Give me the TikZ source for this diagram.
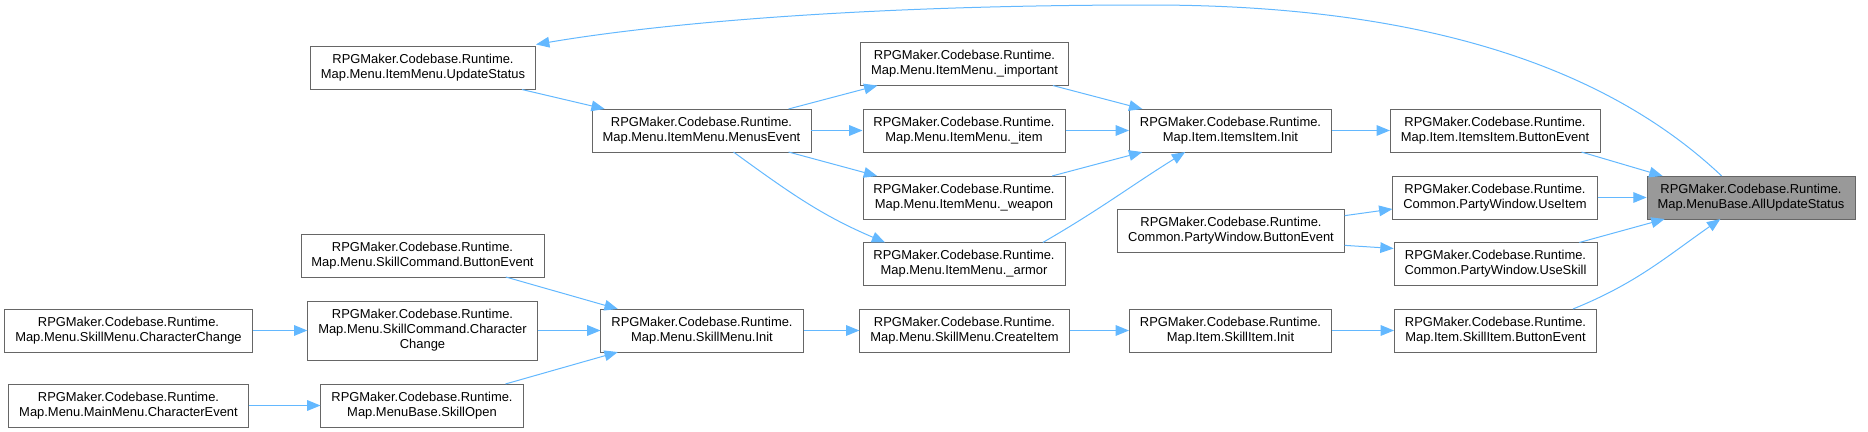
\documentclass[tikz,border=0pt]{standalone}
\usepackage{fontspec}
\setmainfont{Liberation Sans}
\usetikzlibrary{arrows.meta}

\definecolor{edgeblue}{HTML}{63B8FF}
\definecolor{boxgray}{HTML}{666666}
\definecolor{focusfill}{HTML}{999999}

\begin{document}
\begin{tikzpicture}[
    x=0.75pt, y=-0.75pt,
    block/.style={draw=boxgray, fill=white, minimum height=31.9pt, inner xsep=8pt, inner ysep=2pt, align=center, font=\fontsize{9.7}{11.25}\selectfont},
    focus/.style={block, fill=focusfill},
    arrow/.style={draw=edgeblue, line width=0.75pt, -{Triangle[length=10pt,width=8pt]}},
]
    \useasboundingbox (0,0) rectangle (1868,432);

    \node[block] (upd) at (423,68) {RPGMaker.Codebase.Runtime.\\Map.Menu.ItemMenu.UpdateStatus};
    \node[block] (menus) at (701.5,130.5) {RPGMaker.Codebase.Runtime.\\Map.Menu.ItemMenu.MenusEvent};
    \node[block] (imp) at (964.5,64) {RPGMaker.Codebase.Runtime.\\Map.Menu.ItemMenu.\_important};
    \node[block] (item) at (964,130.5) {RPGMaker.Codebase.Runtime.\\Map.Menu.ItemMenu.\_item};
    \node[block] (weap) at (964,197.5) {RPGMaker.Codebase.Runtime.\\Map.Menu.ItemMenu.\_weapon};
    \node[block] (armor) at (964,264) {RPGMaker.Codebase.Runtime.\\Map.Menu.ItemMenu.\_armor};
    \node[block] (itinit) at (1230.5,130.5) {RPGMaker.Codebase.Runtime.\\Map.Item.ItemsItem.Init};
    \node[block] (itbtn) at (1495,130.5) {RPGMaker.Codebase.Runtime.\\Map.Item.ItemsItem.ButtonEvent};
    \node[block] (pwbtn) at (1231,230.5) {RPGMaker.Codebase.Runtime.\\Common.PartyWindow.ButtonEvent};
    \node[block] (useitem) at (1495,197.5) {RPGMaker.Codebase.Runtime.\\Common.PartyWindow.UseItem};
    \node[block] (useskill) at (1495.5,264) {RPGMaker.Codebase.Runtime.\\Common.PartyWindow.UseSkill};
    \node[focus] (all) at (1751,197.5) {RPGMaker.Codebase.Runtime.\\Map.MenuBase.AllUpdateStatus};
    \node[block] (skbtn) at (1495.5,330.5) {RPGMaker.Codebase.Runtime.\\Map.Item.SkillItem.ButtonEvent};
    \node[block] (skinit) at (1230.5,330.5) {RPGMaker.Codebase.Runtime.\\Map.Item.SkillItem.Init};
    \node[block] (create) at (964.5,330.5) {RPGMaker.Codebase.Runtime.\\Map.Menu.SkillMenu.CreateItem};
    \node[block] (sminit) at (702,330.5) {RPGMaker.Codebase.Runtime.\\Map.Menu.SkillMenu.Init};
    \node[block] (scbtn) at (422.5,255.5) {RPGMaker.Codebase.Runtime.\\Map.Menu.SkillCommand.ButtonEvent};
    \node[block, minimum height=44.25pt] (scchg) at (422.5,330.5) {RPGMaker.Codebase.Runtime.\\Map.Menu.SkillCommand.Character\\Change};
    \node[block] (smchg) at (128.5,330.5) {RPGMaker.Codebase.Runtime.\\Map.Menu.SkillMenu.CharacterChange};
    \node[block] (open) at (422,405.5) {RPGMaker.Codebase.Runtime.\\Map.MenuBase.SkillOpen};
    \node[block] (mmev) at (128.5,405.5) {RPGMaker.Codebase.Runtime.\\Map.Menu.MainMenu.CharacterEvent};

    \draw[arrow] ([xshift=-22pt]all.north) .. controls (1620,80) and (1450,5) .. (1150,5) .. controls (850,5) and (650,25) .. ([yshift=1.5pt]upd.north east);
    \draw[arrow] ([xshift=-10.5pt]upd.south east) -- ([xshift=9.75pt]menus.north west);
    \draw[arrow] ([xshift=-17pt]menus.north east) -- ([xshift=13pt]imp.south west);
    \draw[arrow] (menus) -- (item);
    \draw[arrow] ([xshift=-17pt]menus.south east) -- ([xshift=11pt]weap.north west);
    \draw[arrow] ([xshift=24pt]menus.south) to[out=-36,in=157] ([xshift=17pt]armor.north west);
    \draw[arrow] ([xshift=-12pt]imp.south east) -- ([xshift=10pt]itinit.north west);
    \draw[arrow] (item) -- (itinit);
    \draw[arrow] ([xshift=-10pt]weap.north east) -- ([xshift=10pt]itinit.south west);
    \draw[arrow] ([xshift=-17pt]armor.north east) to[out=30,in=-148] ([xshift=-34pt]itinit.south);
    \draw[arrow] (itinit) -- (itbtn);
    \draw[arrow] ([xshift=-14pt]itbtn.south east) -- ([xshift=12pt]all.north west);
    \draw[arrow] (useitem) -- (all);
    \draw[arrow] ([yshift=-5pt]pwbtn.north east) -- ([yshift=7.5pt]useitem.south west);
    \draw[arrow] ([yshift=5pt]pwbtn.south east) -- ([yshift=-4.5pt]useskill.north west);
    \draw[arrow] ([xshift=-13.5pt]useskill.north east) -- ([xshift=13.5pt]all.south west);
    \draw[arrow] ([xshift=-18pt]skbtn.north east) to[out=22,in=-145] ([xshift=-23pt]all.south);
    \draw[arrow] (skinit) -- (skbtn);
    \draw[arrow] (create) -- (skinit);
    \draw[arrow] (sminit) -- (create);
    \draw[arrow] ([xshift=-29pt]scbtn.south east) -- ([xshift=13pt]sminit.north west);
    \draw[arrow] (scchg) -- (sminit);
    \draw[arrow] ([xshift=-13.5pt]open.north east) -- ([xshift=13pt]sminit.south west);
    \draw[arrow] (smchg) -- (scchg);
    \draw[arrow] (mmev) -- (open);
\end{tikzpicture}
\end{document}
